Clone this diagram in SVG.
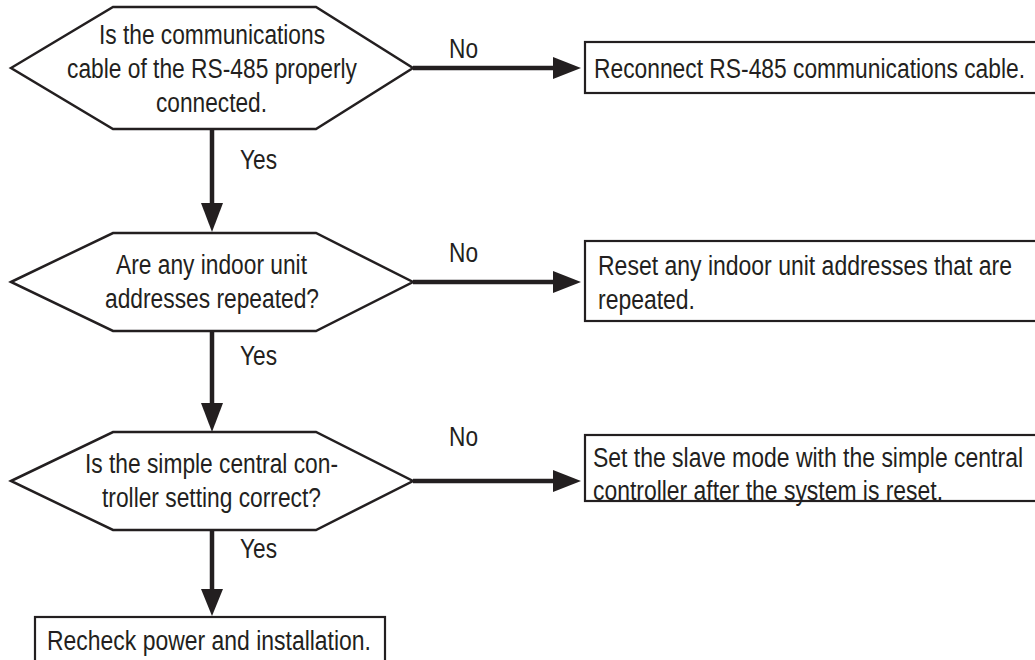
<svg xmlns="http://www.w3.org/2000/svg" width="1035" height="660" viewBox="0 0 1035 660">
<defs>
<style>
.shape{fill:#fff;stroke:#231f20;stroke-width:2.5}
.box{fill:#fff;stroke:#231f20;stroke-width:2.2}
.conn{stroke:#231f20;stroke-width:4.5;fill:none}
.head{fill:#231f20}
text{font-family:"Liberation Sans",Arial,sans-serif;font-size:27px;fill:#231f20}
</style>
</defs>
<rect width="1035" height="660" fill="#fff"/>
<g id="connectors">
<line class="conn" x1="413" y1="68" x2="556" y2="68"/>
<polygon class="head" points="553,57 581,68 553,79"/>
<line class="conn" x1="212" y1="129" x2="212" y2="206"/>
<polygon class="head" points="201,203 212,232 223,203"/>
<line class="conn" x1="413" y1="282" x2="556" y2="282"/>
<polygon class="head" points="553,271 581,282 553,293"/>
<line class="conn" x1="212" y1="331" x2="212" y2="406"/>
<polygon class="head" points="201,403 212,432 223,403"/>
<line class="conn" x1="413" y1="481" x2="556" y2="481"/>
<polygon class="head" points="553,470 581,481 553,492"/>
<line class="conn" x1="212" y1="530" x2="212" y2="592"/>
<polygon class="head" points="201,589 212,616 223,589"/>
<text x="449" y="58" textLength="29" lengthAdjust="spacingAndGlyphs">No</text>
<text x="240" y="169" textLength="37" lengthAdjust="spacingAndGlyphs">Yes</text>
<text x="449" y="262" textLength="29" lengthAdjust="spacingAndGlyphs">No</text>
<text x="240" y="365" textLength="37" lengthAdjust="spacingAndGlyphs">Yes</text>
<text x="449" y="446" textLength="29" lengthAdjust="spacingAndGlyphs">No</text>
<text x="240" y="558" textLength="37" lengthAdjust="spacingAndGlyphs">Yes</text>
</g>
<g id="q1">
<polygon class="shape" points="11,68 113,7 316,7 413,68 316,129 113,129"/>
<text x="99" y="44" textLength="226" lengthAdjust="spacingAndGlyphs">Is the communications</text>
<text x="67" y="78" textLength="290" lengthAdjust="spacingAndGlyphs">cable of the RS-485 properly</text>
<text x="156" y="112" textLength="111" lengthAdjust="spacingAndGlyphs">connected.</text>
</g>
<g id="a1">
<rect class="box" x="585" y="42" width="470" height="51"/>
<text x="594" y="78" textLength="431" lengthAdjust="spacingAndGlyphs">Reconnect RS-485 communications cable.</text>
</g>
<g id="q2">
<polygon class="shape" points="11,282 113,233 316,233 413,282 316,331 113,331"/>
<text x="116" y="274" textLength="191" lengthAdjust="spacingAndGlyphs">Are any indoor unit</text>
<text x="105" y="308" textLength="214" lengthAdjust="spacingAndGlyphs">addresses repeated?</text>
</g>
<g id="a2">
<rect class="box" x="585" y="241" width="470" height="80"/>
<text x="598" y="275" textLength="414" lengthAdjust="spacingAndGlyphs">Reset any indoor unit addresses that are</text>
<text x="598" y="309" textLength="97" lengthAdjust="spacingAndGlyphs">repeated.</text>
</g>
<g id="q3">
<polygon class="shape" points="11,481 113,432 316,432 413,481 316,530 113,530"/>
<text x="85" y="473" textLength="253" lengthAdjust="spacingAndGlyphs">Is the simple central con-</text>
<text x="102" y="507" textLength="219" lengthAdjust="spacingAndGlyphs">troller setting correct?</text>
</g>
<g id="a3">
<rect class="box" x="585" y="435" width="470" height="66"/>
<text x="593" y="467" textLength="430" lengthAdjust="spacingAndGlyphs">Set the slave mode with the simple central</text>
<text x="593" y="500" textLength="350" lengthAdjust="spacingAndGlyphs">controller after the system is reset.</text>
</g>
<g id="end">
<rect class="box" x="35" y="617" width="350" height="60"/>
<text x="47" y="650" textLength="324" lengthAdjust="spacingAndGlyphs">Recheck power and installation.</text>
</g>
</svg>
